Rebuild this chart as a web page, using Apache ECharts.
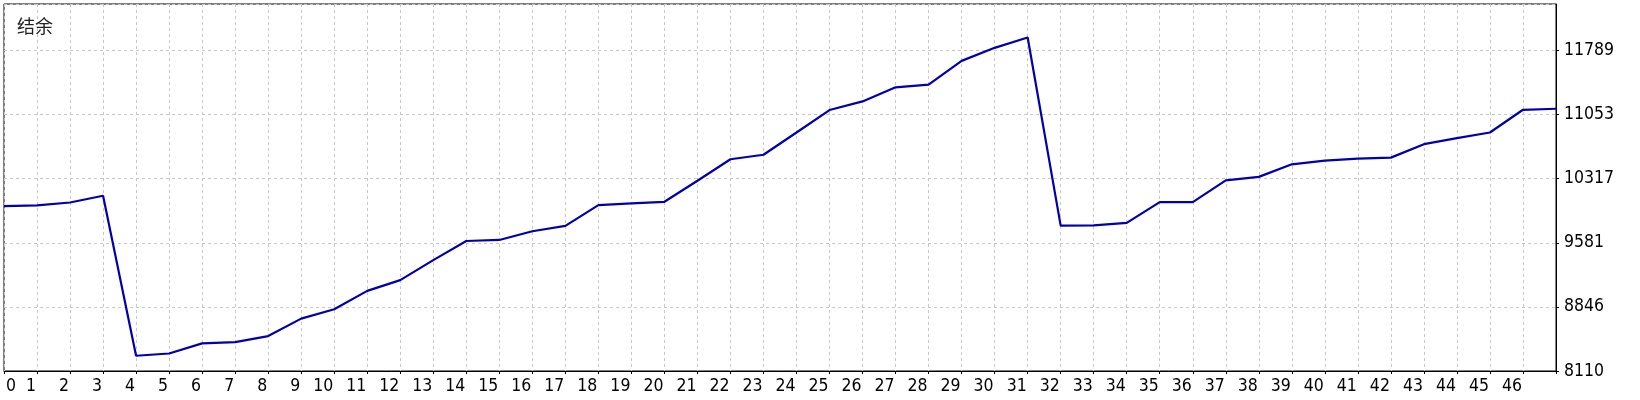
<!DOCTYPE html>
<html><head><meta charset="utf-8">
<script src="https://cdn.jsdelivr.net/npm/echarts@6/dist/echarts.min.js"></script>
<style>html,body{margin:0;padding:0;background:#fff}#c{width:1640px;height:400px}</style>
</head><body><div id="c"></div>
<script>
const chartTitle = '结余';
const categories = ['0','1','2','3','4','5','6','7','8','9','10','11','12','13','14','15','16','17','18','19','20','21','22','23','24','25','26','27','28','29','30','31','32','33','34','35','36','37','38','39','40','41','42','43','44','45','46','47'];
const balance = [10002,10010,10044,10121,8285,8311,8427,8442,8511,8711,8819,9030,9153,9383,9602,9614,9714,9775,10013,10033,10052,10294,10540,10592,10847,11105,11204,11366,11397,11669,11819,11938,9779,9781,9810,10048,10048,10298,10338,10482,10524,10547,10559,10713,10782,10847,11108,11120];
const yTickLabels = ['8110','8846','9581','10317','11053','11789'];
const yMin = 8110, yMax = 12322, yStep = 735.8;

const font = '"DejaVu Sans Condensed", "Liberation Sans", sans-serif';
const fs = 17.5;
const chart = echarts.init(document.getElementById('c'), null, {renderer: 'canvas'});
chart.setOption({
  animation: false,
  backgroundColor: '#fff',
  title: {
    text: chartTitle, left: 12, top: 12,
    textStyle: {fontFamily: 'Noto Sans CJK SC', fontSize: 18, fontWeight: 'normal', color: '#222'}
  },
  grid: {left: 4, right: 84, top: 4, bottom: 29, show: true, borderColor: '#000', borderWidth: 1, containLabel: false},
  xAxis: [{
    type: 'category', data: categories, boundaryGap: false, position: 'bottom',
    axisLine: {show: true, lineStyle: {color: '#000', width: 1}},
    axisTick: {show: true, interval: 0, length: 3, lineStyle: {color: '#000'}},
    axisLabel: {
      interval: (i) => i > 0 && i < categories.length - 1,
      align: 'right', padding: [0, 1, 0, 0], margin: 6,
      fontFamily: font, fontSize: fs, color: '#000'
    },
    splitLine: {show: true, interval: 0, lineStyle: {color: '#c8c8c8', type: [3, 3], width: 1}}
  }, {
    type: 'category', data: categories, boundaryGap: false, position: 'bottom',
    axisLine: {show: false}, axisTick: {show: false}, splitLine: {show: false},
    axisLabel: {
      interval: (i) => i === 0,
      align: 'left', padding: [0, 0, 0, 2], margin: 6,
      fontFamily: font, fontSize: fs, color: '#000'
    }
  }],
  yAxis: {
    type: 'value', position: 'right', min: yMin, max: yMax, interval: yStep,
    axisLine: {show: true, lineStyle: {color: '#000', width: 1}},
    axisTick: {show: true, length: 3, lineStyle: {color: '#000'}},
    axisLabel: {
      showMaxLabel: false, showMinLabel: true, margin: 8,
      fontFamily: font, fontSize: fs, color: '#000',
      formatter: (v) => { const i = Math.round((v - yMin) / yStep); return yTickLabels[i] !== undefined ? yTickLabels[i] : ''; }
    },
    splitLine: {show: true, lineStyle: {color: '#c8c8c8', type: [3, 3], width: 1}}
  },
  series: [{
    type: 'line', data: balance, xAxisIndex: 0, symbol: 'none', silent: true,
    lineStyle: {color: '#0000b0', width: 2.2}
  }]
});
</script></body></html>
